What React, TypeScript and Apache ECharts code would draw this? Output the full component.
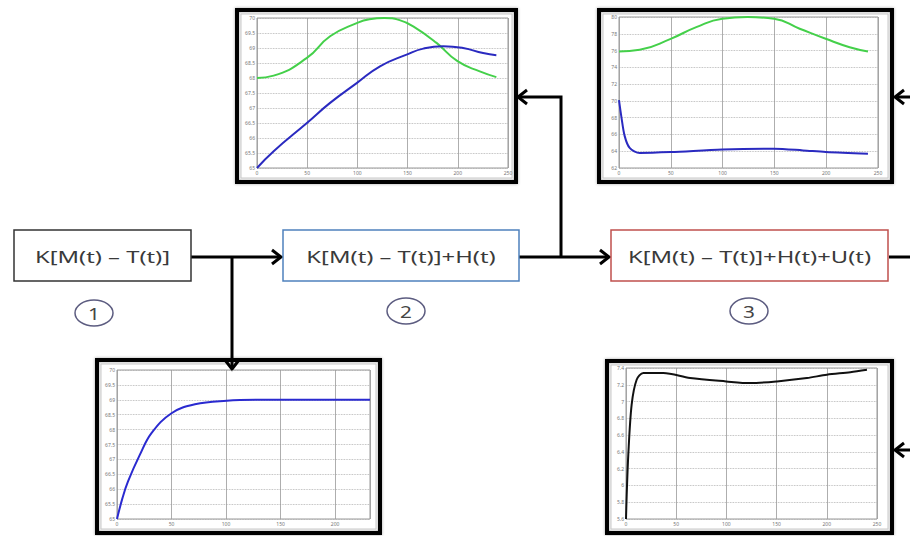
import React, { useEffect, useRef } from 'react';
import * as echarts from 'echarts';

// ---- flow boxes ----
const boxLabels = ['K[M(t) – T(t)]', 'K[M(t) – T(t)]+H(t)', 'K[M(t) – T(t)]+H(t)+U(t)'];
const stepNumbers = ['1', '2', '3'];

// ---- chart 1 (top middle): green and blue ----
const c1GreenX = [0, 16.6, 49.7, 72.8, 99.3, 112, 127, 142, 155.6, 178.8, 199.7, 221.9, 238.4];
const c1Green = [68.0, 68.08, 68.67, 69.39, 69.83, 69.96, 70.0, 69.93, 69.72, 69.17, 68.56, 68.22, 68.03];
const c1BlueX = [0, 16.6, 49.7, 72.8, 99.3, 122.5, 149, 165.6, 185.4, 205.3, 225.2, 238.4];
const c1Blue = [65.0, 65.56, 66.5, 67.17, 67.83, 68.39, 68.78, 68.98, 69.06, 69.0, 68.83, 68.76];

// ---- chart 2 (top right): green and blue ----
const c2GreenX = [0, 20, 49.9, 74.6, 99.7, 124, 149.6, 174.4, 199.5, 222.6, 240.3];
const c2Green = [75.9, 76.1, 77.4, 78.8, 79.8, 80.0, 79.8, 78.6, 77.4, 76.4, 75.9];
const c2BlueX = [0, 2.3, 5.5, 10.3, 20, 49.9, 99.7, 149.6, 177.6, 199.5, 240.3];
const c2Blue = [70.1, 68.1, 65.8, 64.4, 63.8, 63.9, 64.2, 64.3, 64.1, 63.9, 63.7];

// ---- chart 3 (bottom left): blue ----
const c3BlueX = [0, 5, 10.1, 20.9, 31.6, 50, 71.5, 100.6, 130, 232];
const c3Blue = [65.0, 65.7, 66.26, 67.15, 67.88, 68.55, 68.85, 68.97, 69.0, 69.0];

// ---- chart 4 (bottom right): black ----
const c4X = [0, 0.7, 2.3, 5.6, 10.6, 17.3, 37.2, 63.8, 99.7, 123.7, 150.3, 180.2, 200.1, 223.4, 240];
const c4Y = [5.6, 5.89, 6.37, 6.96, 7.26, 7.34, 7.34, 7.28, 7.24, 7.22, 7.24, 7.28, 7.32, 7.35, 7.38];

const pairs = (xs: number[], ys: number[]) => xs.map((x, i) => [x, ys[i]]);

const FONT = 'Noto Sans';

function xAxisOf(gi: number, max: number) {
  return {
    type: 'value', gridIndex: gi, min: 0, max, interval: 50,
    axisLine: { show: false }, axisTick: { show: false },
    axisLabel: { fontSize: 5, color: '#777', margin: 2, showMaxLabel: max % 50 === 0, fontFamily: FONT },
    splitLine: { show: true, lineStyle: { color: '#999', width: 0.8 } },
  };
}
function yAxisOf(gi: number, min: number, max: number, interval: number) {
  return {
    type: 'value', gridIndex: gi, min, max, interval,
    axisLine: { show: false }, axisTick: { show: false },
    axisLabel: { fontSize: 5, color: '#777', margin: 2, fontFamily: FONT },
    splitLine: { show: true, lineStyle: { color: '#aaa', width: 0.8, type: 'dotted' } },
  };
}
function lineSeries(gi: number, data: number[][], color: string, smooth = 0.5) {
  return {
    type: 'line', xAxisIndex: gi, yAxisIndex: gi, data, showSymbol: false, symbol: 'none',
    smooth, lineStyle: { color, width: 2 }, silent: true,
  };
}

function frame(x: number, y: number, w: number, h: number) {
  return [
    { type: 'rect', shape: { x: x + 4, y: y + 4, width: w - 8, height: h - 8 }, style: { fill: 'none', stroke: '#cfcfcf', lineWidth: 1 } },
    { type: 'rect', shape: { x, y, width: w, height: h }, style: { fill: 'none', stroke: '#000', lineWidth: 4, shadowBlur: 3, shadowColor: 'rgba(0,0,0,0.35)' } },
  ];
}
function arrowHead(tx: number, ty: number, dir: 'right' | 'left' | 'down') {
  let pts: number[][];
  if (dir === 'right') pts = [[tx - 9, ty - 7], [tx, ty], [tx - 9, ty + 7]];
  else if (dir === 'left') pts = [[tx + 9, ty - 7], [tx, ty], [tx + 9, ty + 7]];
  else pts = [[tx - 7, ty - 9], [tx, ty], [tx + 7, ty - 9]];
  return { type: 'polyline', shape: { points: pts }, style: { fill: 'none', stroke: '#000', lineWidth: 3 } };
}
function wire(points: number[][]) {
  return { type: 'polyline', shape: { points }, style: { fill: 'none', stroke: '#000', lineWidth: 3 } };
}
function box(x: number, y: number, w: number, h: number, stroke: string, label: string) {
  return [
    { type: 'rect', shape: { x, y, width: w, height: h }, style: { fill: '#fff', stroke, lineWidth: 1.5 } },
    {
      type: 'text', x: x + w / 2, y: y + h / 2 + 1, scaleX: 1.4,
      style: { text: label, fontSize: 17, fontFamily: FONT, fill: '#3a3a3a', align: 'center', verticalAlign: 'middle', textAlign: 'center', textVerticalAlign: 'middle' },
    },
  ];
}
function step(cx: number, cy: number, label: string) {
  return [
    { type: 'ellipse', shape: { cx, cy, rx: 19, ry: 13 }, style: { fill: '#fff', stroke: '#5c5c80', lineWidth: 1.5 } },
    {
      type: 'text', x: cx, y: cy + 1, scaleX: 1.3,
      style: { text: label, fontSize: 16, fontFamily: FONT, fill: '#444', align: 'center', verticalAlign: 'middle', textAlign: 'center', textVerticalAlign: 'middle' },
    },
  ];
}

export default function App() {
  const ref = useRef<HTMLDivElement>(null);
  useEffect(() => {
    if (!ref.current) return;
    const chart = echarts.init(ref.current, null, { renderer: 'svg' });
    const gridBase = { show: true, borderColor: '#999', borderWidth: 1, backgroundColor: '#fff', containLabel: false };
    const option = {
      animation: false,
      backgroundColor: '#fff',
      grid: [
        { ...gridBase, left: 257, top: 18, width: 251, height: 150 },
        { ...gridBase, left: 619, top: 17, width: 259, height: 151 },
        { ...gridBase, left: 117, top: 370, width: 253, height: 149 },
        { ...gridBase, left: 626, top: 368, width: 251, height: 151 },
      ],
      xAxis: [xAxisOf(0, 250), xAxisOf(1, 250), xAxisOf(2, 232), xAxisOf(3, 250)],
      yAxis: [yAxisOf(0, 65, 70, 0.5), yAxisOf(1, 62, 80, 2), yAxisOf(2, 65, 70, 0.5), yAxisOf(3, 5.6, 7.4, 0.2)],
      series: [
        lineSeries(0, pairs(c1GreenX, c1Green), '#44d04a'),
        lineSeries(0, pairs(c1BlueX, c1Blue), '#2a2ac0'),
        lineSeries(1, pairs(c2GreenX, c2Green), '#44d04a'),
        lineSeries(1, pairs(c2BlueX, c2Blue), '#2a2ac0', 0.3),
        lineSeries(2, pairs(c3BlueX, c3Blue), '#2a2ad0', 0.4),
        lineSeries(3, pairs(c4X, c4Y), '#111', 0.3),
      ],
      graphic: [
        {
          type: 'group', z: 100,
          children: [
            ...frame(237, 10, 279, 172),
            ...frame(599, 10, 293, 172),
            ...frame(97, 360, 283, 173),
            ...frame(607, 361, 285, 172),
            // wires
            wire([[191, 257], [280, 257]]),
            wire([[232, 257], [232, 367]]),
            wire([[519, 257], [608, 257]]),
            wire([[561, 257], [561, 97], [519, 97]]),
            wire([[889, 257], [910, 257]]),
            wire([[896, 97], [910, 97]]),
            wire([[896, 450], [910, 450]]),
            arrowHead(281, 257, 'right'),
            arrowHead(609, 257, 'right'),
            arrowHead(518, 97, 'left'),
            arrowHead(895, 97, 'left'),
            arrowHead(895, 450, 'left'),
            arrowHead(232, 369, 'down'),
            ...box(14, 230, 177, 51, '#333', boxLabels[0]),
            ...box(283, 230, 236, 51, '#4f81bd', boxLabels[1]),
            ...box(611, 230, 277, 51, '#c0504d', boxLabels[2]),
            ...step(94, 313, stepNumbers[0]),
            ...step(406, 311, stepNumbers[1]),
            ...step(749, 311, stepNumbers[2]),
          ],
        },
      ],
    };
    chart.setOption(option as any);
    return () => chart.dispose();
  }, []);
  return <div ref={ref} style={{ position: 'absolute', left: 0, top: 0, width: 910, height: 536 }} />;
}
